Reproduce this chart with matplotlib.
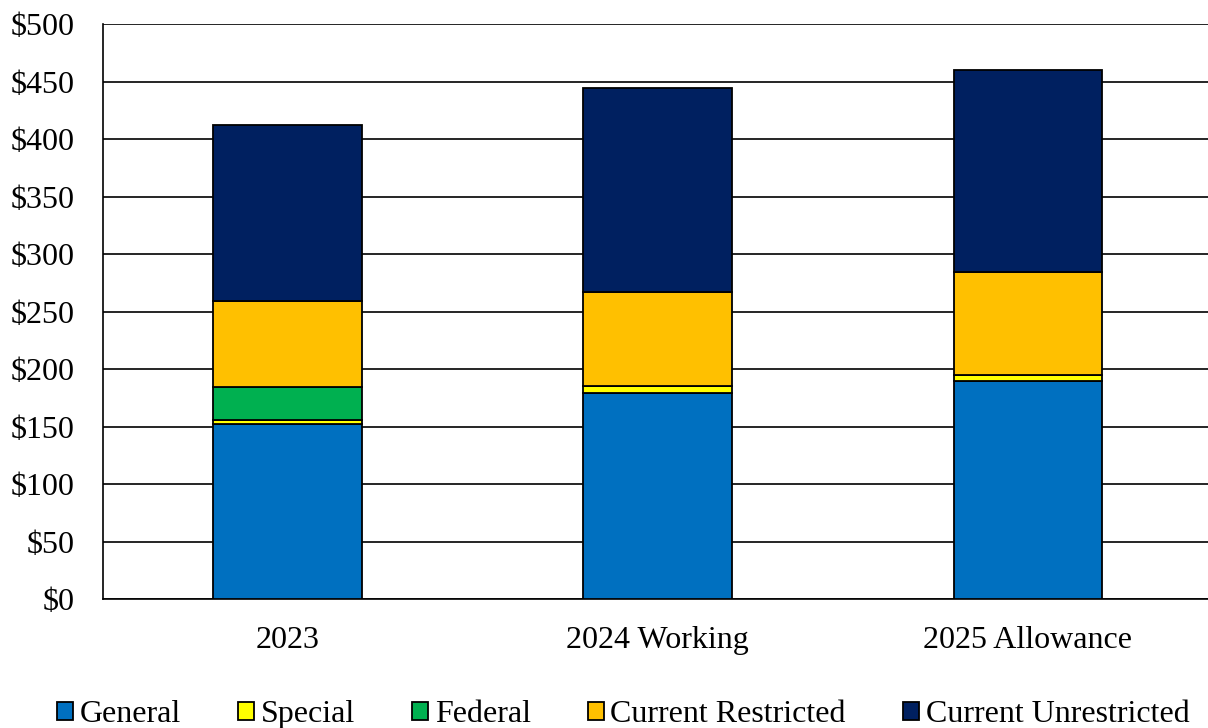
import matplotlib.pyplot as plt
import numpy as np

plt.rcParams['font.family'] = ['Liberation Serif', 'DejaVu Serif']

# Dados (milhoes de dolares)
categorias = ['2023', '2024 Working', '2025 Allowance']
general = [152, 179, 190]
special = [4, 6, 5]
federal = [28, 0, 0]
current_restricted = [75, 82, 89]
current_unrestricted = [153, 177, 176]

series = [
    ('General', general, '#0070C0'),
    ('Special', special, '#FFFF00'),
    ('Federal', federal, '#00B050'),
    ('Current Restricted', current_restricted, '#FFC000'),
    ('Current Unrestricted', current_unrestricted, '#002060'),
]

fig = plt.figure(figsize=(12.08, 7.28), dpi=100)
ax = fig.add_axes([0.0849, 0.177, 0.9193, 0.79])

x = np.arange(len(categorias))
base = np.zeros(len(categorias))
handles = []
for nome, vals, cor in series:
    vals = np.array(vals, dtype=float)
    b = ax.bar(x, vals, width=0.402, bottom=base, color=cor, edgecolor='black',
               linewidth=1.3, label=nome, zorder=3)
    handles.append(b)
    base += vals

ax.set_xlim(-0.5, 2.5)
ax.set_ylim(0, 500)
ax.set_yticks(np.arange(0, 501, 50))
ax.set_yticklabels([f'${v}' for v in range(0, 501, 50)])
ax.set_xticks(x)
ax.set_xticklabels(categorias)
ax.tick_params(axis='both', length=0, labelsize=23)
ax.tick_params(axis='y', pad=20)
ax.tick_params(axis='x', pad=19)
ax.yaxis.grid(True, color='black', linewidth=1.2, zorder=0)
ax.set_axisbelow(True)
for s in ['top', 'right']:
    ax.spines[s].set_visible(False)
for s in ['left', 'bottom']:
    ax.spines[s].set_linewidth(1.2)

fig.legend(handles=handles, labels=[s[0] for s in series], loc='center',
           bbox_to_anchor=(0.516, 0.018), ncol=5, frameon=False, fontsize=23,
           handlelength=0.5, handleheight=0.5, handletextpad=0.2,
           columnspacing=1.8, borderaxespad=0)

fig.savefig('out.png', dpi=100)
